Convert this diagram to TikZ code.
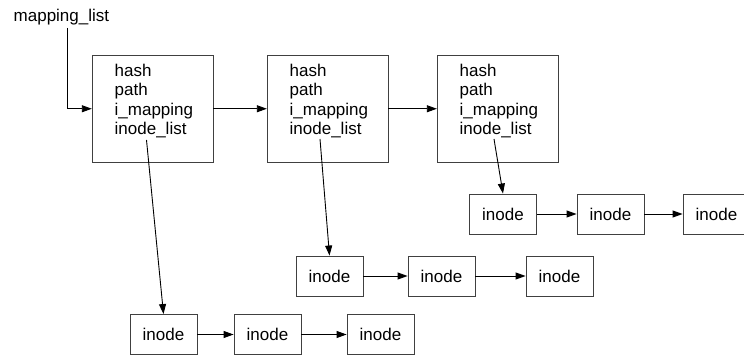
\documentclass[tikz,border=0pt]{standalone}
\usepackage{fontspec}
\setmainfont{Liberation Sans}
\usetikzlibrary{arrows.meta}
\tikzset{
  conn/.style={draw=black, line width=0.9pt, -{Triangle[length=10pt,width=7pt]}},
  bigbox/.style={draw=black!75, line width=0.9pt},
  inodebox/.style={draw=black!75, line width=0.9pt, minimum width=67pt, minimum height=40pt, inner sep=0pt, font=\fontsize{17}{18}\selectfont},
  fld/.style={anchor=base west, inner sep=0.5pt, font=\fontsize{17}{18}\selectfont},
}
\begin{document}
\begin{tikzpicture}[x=1pt,y=-1pt]
\useasboundingbox (0,0) rectangle (744,355);
% label
\node[fld] (ml) at (13,22) {mapping\_list};
\coordinate (mlc) at (67,28);
% big boxes
\foreach \n/\x in {1/92,2/267,3/437}{
  \draw[bigbox] (\x,55.5) rectangle ++(121,106.5);
  \node[fld] (h\n) at (\x+22,76.5) {hash};
  \node[fld] (p\n) at (\x+22,96) {path};
  \node[fld] (im\n) at (\x+22,115.3) {i\_mapping};
  \node[fld] (il\n) at (\x+22,134.5) {inode\_list};
}
\node[inner sep=0pt, minimum width=121pt, minimum height=106.5pt] (b1) at (152.5,108.75) {};
\node[inner sep=0pt, minimum width=121pt, minimum height=106.5pt] (b2) at (327.5,108.75) {};
\node[inner sep=0pt, minimum width=121pt, minimum height=106.5pt] (b3) at (497.5,108.75) {};
% inode rows
\node[inodebox] (a1) at (163.5,334.5) {inode};
\node[inodebox] (a2) at (267.5,334.5) {inode};
\node[inodebox] (a3) at (380.5,334.5) {inode};
\node[inodebox] (m1) at (329.5,276) {inode};
\node[inodebox] (m2) at (441.5,276) {inode};
\node[inodebox] (m3) at (559.5,276) {inode};
\node[inodebox] (t1) at (503,214) {inode};
\node[inodebox] (t2) at (610.5,214) {inode};
\node[inodebox] (t3) at (716.5,214) {inode};
% connectors
\draw[conn] (mlc) |- (b1.west);
\draw[conn] (b1.east) -- (b2.west);
\draw[conn] (b2.east) -- (b3.west);
\coordinate (s1) at (146.5,140);
\coordinate (s2) at (320,139);
\coordinate (s3) at (494,139);
\draw[conn] (s1) -- (a1.north);
\draw[conn] (s2) -- (m1.north);
\draw[conn] (s3) -- (t1.north);
\draw[conn] (a1) -- (a2);
\draw[conn] (a2) -- (a3);
\draw[conn] (m1) -- (m2);
\draw[conn] (m2) -- (m3);
\draw[conn] (t1) -- (t2);
\draw[conn] (t2) -- (t3);
\end{tikzpicture}
\end{document}
